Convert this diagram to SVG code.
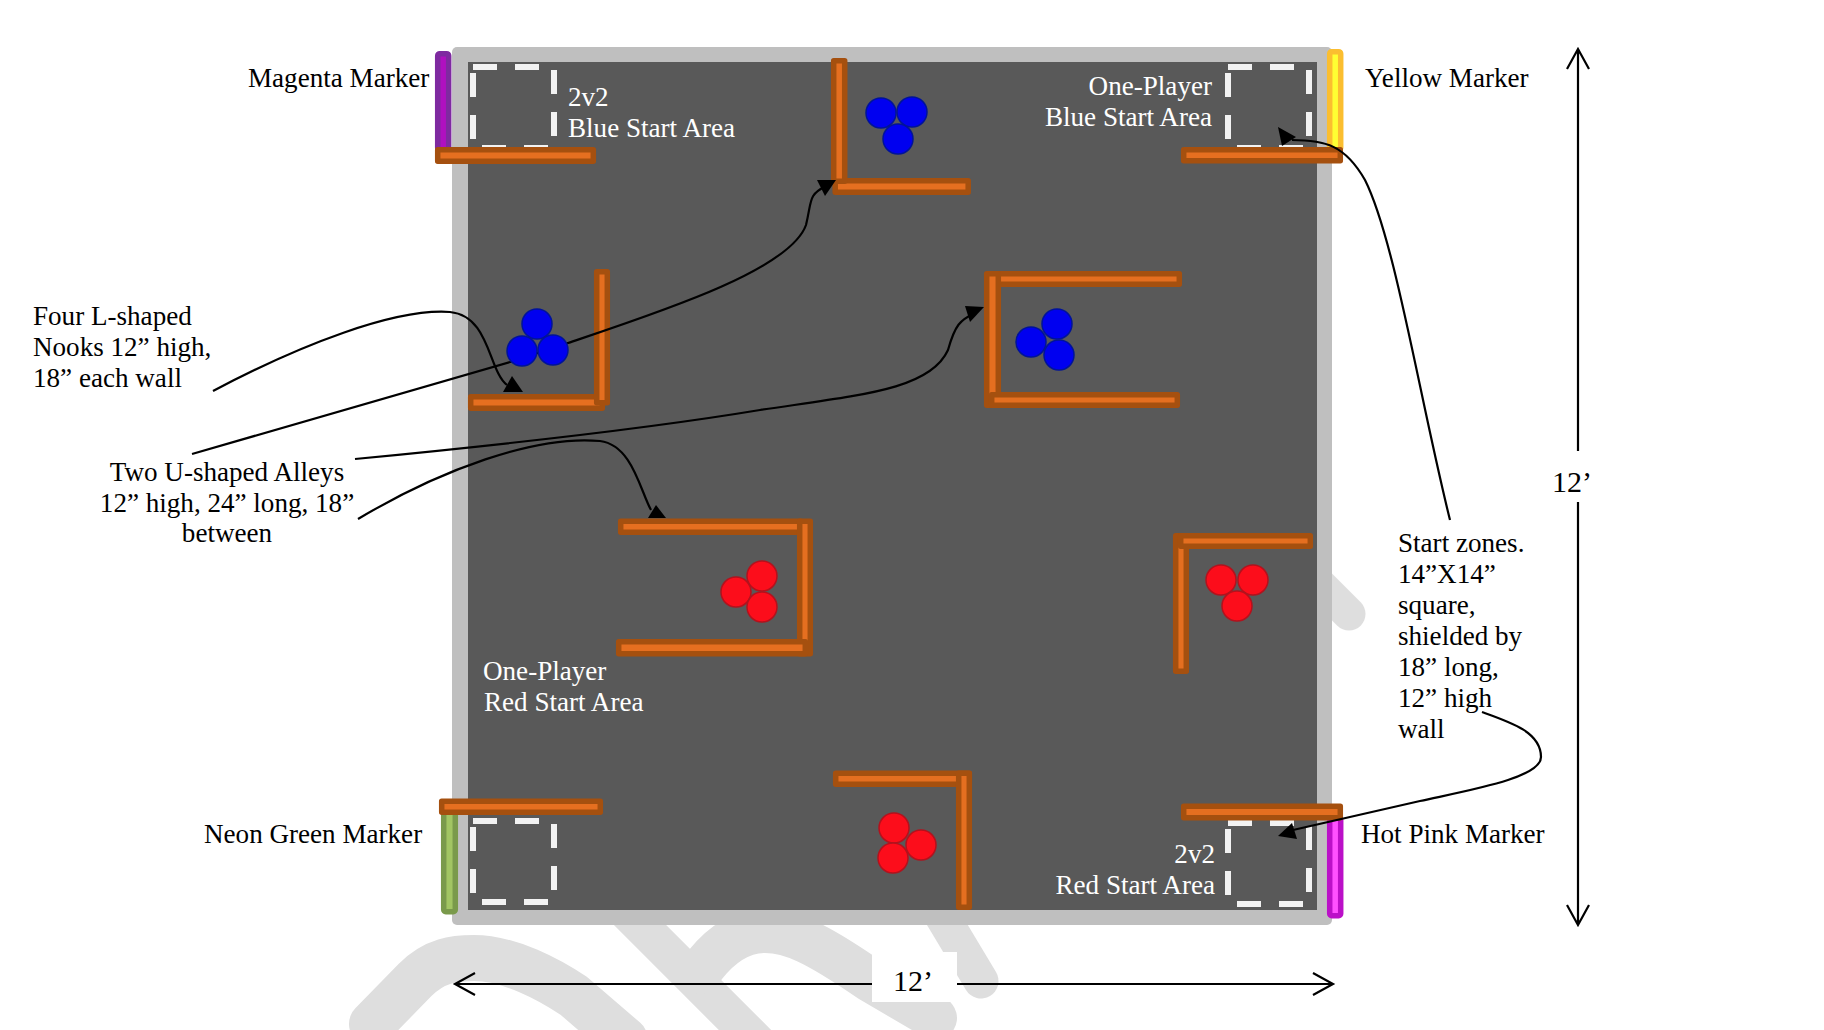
<svg xmlns="http://www.w3.org/2000/svg" width="1824" height="1030" viewBox="0 0 1824 1030">
<style>
text{font-family:"Liberation Serif","Times New Roman",serif;font-size:27.1px;fill:#000}
.w{fill:#fff}
.e{text-anchor:end}
.m{text-anchor:middle}
.d{font-size:30px}
.band{fill:none;stroke:#dedede;stroke-linecap:round}
.wall{fill:#e56f20;stroke:#a5500f;stroke-width:5.5;stroke-linejoin:round}
.zone{fill:none;stroke:#f2f2f2;stroke-width:6;stroke-dasharray:24 18}
.blue{fill:#0000f0;stroke:#00139a;stroke-width:1.5}
.red{fill:#fc0d1b;stroke:#b3121d;stroke-width:1.5}
.conn{fill:none;stroke:#000;stroke-width:2.2}
.dim{fill:none;stroke:#000;stroke-width:2.2}
</style>
<g id="watermark">
<path class="band" stroke-width="46" d="M372 1024L415 980C435 960 455 958 474 958C510 958 550 980 574 996L625 1040"/>
<path class="band" stroke-width="37" d="M620 905L770 1055"/>
<path class="band" stroke-width="44" d="M700 972L705 965C725 940 745 931 765 931C790 931 815 942 870 980L935 1018"/>
<path class="band" stroke-width="35" d="M933 901L981 981"/>
<path class="band" stroke-width="33" d="M1300 565L1349 614"/>
<rect x="872" y="952" width="85" height="50" fill="#fff"/>
</g>
<g id="board">
<rect x="452" y="47" width="880" height="878" rx="5" fill="#bfbfbf"/>
<rect x="468" y="62" width="849" height="848" fill="#595959"/>
</g>
<g id="start-zones">
<rect id="zone-tl" class="zone" x="473" y="67" width="81" height="81"/>
<rect id="zone-tr" class="zone" x="1228" y="67" width="81" height="81"/>
<rect id="zone-bl" class="zone" x="473" y="821" width="81" height="81"/>
<rect id="zone-br" class="zone" x="1228" y="823" width="81" height="81"/>
</g>
<g id="markers">
<rect id="marker-magenta" x="437.7" y="53.7" width="11" height="96" rx="2" fill="#b010c0" stroke="#7e2aa0" stroke-width="5.5"/>
<rect id="marker-yellow" x="1329.7" y="51.7" width="11" height="98" rx="2" fill="#ffff33" stroke="#fbbe30" stroke-width="5.5"/>
<rect id="marker-green" x="443.7" y="812" width="11.6" height="99.7" rx="2" fill="#a2c563" stroke="#7a9a4b" stroke-width="5.5"/>
<rect id="marker-pink" x="1329.7" y="818" width="11" height="97.7" rx="2" fill="#ff50ff" stroke="#bb10c8" stroke-width="5.5"/>
</g>
<g id="walls">
<rect id="wall-tl" class="wall" x="437.7" y="149.7" width="155.6" height="11.5"/>
<rect id="wall-tr" class="wall" x="1183.7" y="149.7" width="156.6" height="11"/>
<rect id="wall-bl" class="wall" x="441.7" y="801.2" width="158.6" height="11"/>
<rect id="wall-br" class="wall" x="1183.7" y="806.3" width="156.6" height="11.4"/>
<g id="nook-top">
<rect class="wall" x="835.2" y="180.7" width="133" height="11.5"/>
<rect class="wall" x="833.7" y="60.7" width="11" height="120.6"/>
</g>
<g id="nook-left">
<rect class="wall" x="470.7" y="396.7" width="131.6" height="11.5"/>
<rect class="wall" x="596.7" y="271.7" width="10.6" height="131"/>
</g>
<g id="nook-right">
<rect class="wall" x="1175.7" y="535.7" width="10.6" height="135.6"/>
<rect class="wall" x="1180.7" y="535.7" width="129.6" height="10.6"/>
</g>
<g id="nook-bottom">
<rect class="wall" x="835.7" y="773.2" width="133.6" height="11"/>
<rect class="wall" x="958.7" y="773.2" width="10.6" height="134"/>
</g>
<g id="alley-blue">
<rect class="wall" x="992.7" y="273.7" width="186.6" height="10.6"/>
<rect class="wall" x="986.7" y="273.7" width="11.6" height="131.6"/>
<rect class="wall" x="991.7" y="394.7" width="185.6" height="10.6"/>
</g>
<g id="alley-red">
<rect class="wall" x="620.7" y="521.3" width="180" height="11"/>
<rect class="wall" x="799.7" y="521.3" width="10.6" height="132.5"/>
<rect class="wall" x="618.7" y="641.7" width="186.6" height="12"/>
</g>
</g>
<g id="labels">
<text class="w" x="568" y="106">2v2</text>
<text class="w" x="568" y="137">Blue Start Area</text>
<text class="w e" x="1212" y="95">One-Player</text>
<text class="w e" x="1212" y="126">Blue Start Area</text>
<text class="w" x="483" y="680">One-Player</text>
<text class="w" x="484" y="711">Red Start Area</text>
<text class="w e" x="1215" y="863">2v2</text>
<text class="w e" x="1215" y="894">Red Start Area</text>
<text x="248" y="87">Magenta Marker</text>
<text x="1365" y="87">Yellow Marker</text>
<text x="204" y="843">Neon Green Marker</text>
<text x="1361" y="843">Hot Pink Marker</text>
<text x="33" y="325">Four L-shaped</text>
<text x="33" y="356">Nooks 12” high,</text>
<text x="33" y="387">18” each wall</text>
<text class="m" x="227" y="481">Two U-shaped Alleys</text>
<text class="m" x="227" y="512">12” high, 24” long, 18”</text>
<text class="m" x="227" y="542">between</text>
<text x="1398" y="552">Start zones.</text>
<text x="1398" y="583">14”X14”</text>
<text x="1398" y="614">square,</text>
<text x="1398" y="645">shielded by</text>
<text x="1398" y="676">18” long,</text>
<text x="1398" y="707">12” high</text>
<text x="1398" y="738">wall</text>
<text class="d" x="1552" y="492">12’</text>
<text class="d" x="893" y="991">12’</text>
</g>
<g id="connectors">
<path class="conn" d="M213 391C300 345 395 308 450 312C490 316 488 370 507 385"/>
<polygon points="512,376 503,392 523,392"/>
<path class="conn" d="M192 454L510 362L568 343C660 312 790 270 806 225C812 200 808 195 826 186"/>
<polygon points="836,180 817,180 825,196"/>
<path class="conn" d="M355 459C500 445 640 430 760 410C860 395 930 390 948 350C955 325 960 320 975 313"/>
<polygon points="984,307 965,306 970,322"/>
<path class="conn" d="M358 519C440 470 535 435 600 441C632 445 640 490 651 510"/>
<polygon points="656,505 648,518 666,518"/>
<path class="conn" d="M1450 520C1420 400 1395 240 1365 180C1345 145 1325 140 1292 140"/>
<polygon points="1278,127 1296,137 1282,146"/>
<path class="conn" d="M1482 712C1510 722 1541 732 1541 757C1541 778 1470 790 1420 801L1293 830"/>
<polygon points="1278,836 1292,823 1297,839"/>
<g id="dimensions">
<path class="dim" d="M1578 451V49M1567 69L1578 49L1589 69M1578 502V925M1567 905L1578 925L1589 905"/>
<path class="dim" d="M872 984H455M475 973L455 984L475 995M957 984H1333M1313 973L1333 984L1313 995"/>
</g>
</g>
<g id="balls">
<g id="balls-top"><circle class="blue" cx="881" cy="113" r="15"/><circle class="blue" cx="912" cy="112" r="15"/><circle class="blue" cx="898" cy="139" r="15"/></g>
<g id="balls-left"><circle class="blue" cx="537" cy="324" r="15"/><circle class="blue" cx="522" cy="351" r="15"/><circle class="blue" cx="553" cy="350" r="15"/></g>
<g id="balls-alley-blue"><circle class="blue" cx="1057" cy="324" r="15"/><circle class="blue" cx="1031" cy="342" r="15"/><circle class="blue" cx="1059" cy="355" r="15"/></g>
<g id="balls-alley-red"><circle class="red" cx="762" cy="576" r="15"/><circle class="red" cx="736" cy="592" r="15"/><circle class="red" cx="762" cy="607" r="15"/></g>
<g id="balls-bottom"><circle class="red" cx="894" cy="828" r="15"/><circle class="red" cx="893" cy="858" r="15"/><circle class="red" cx="921" cy="845" r="15"/></g>
<g id="balls-right"><circle class="red" cx="1221" cy="580" r="15"/><circle class="red" cx="1253" cy="580" r="15"/><circle class="red" cx="1237" cy="606" r="15"/></g>
</g>
</svg>
